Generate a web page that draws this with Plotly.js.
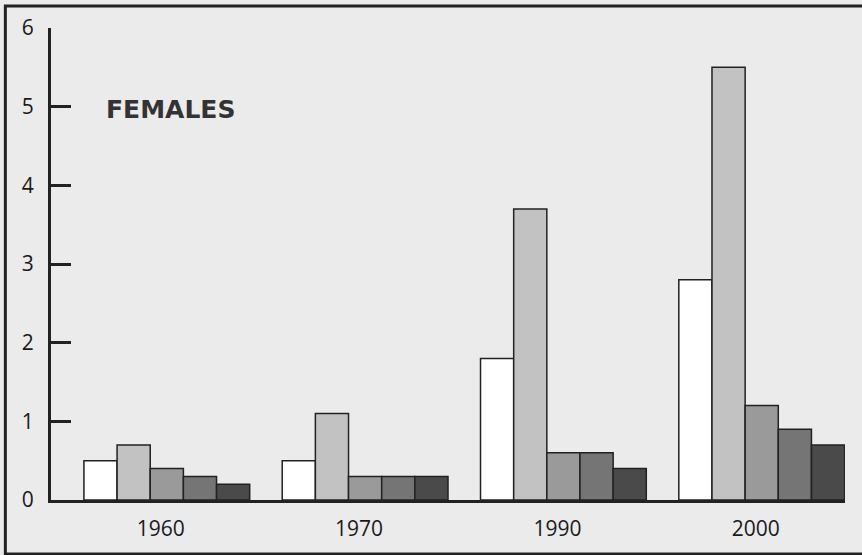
<!DOCTYPE html>
<html>
<head>
<meta charset="utf-8">
<script src="https://cdn.plot.ly/plotly-3.0.1.min.js"></script>
<style>
html,body{margin:0;padding:0;background:#ebebeb;}
#chart{width:862px;height:555px;}
</style>
</head>
<body>
<div id="chart"></div>
<script>
const decades = ["1960", "1970", "1990", "2000"];
const seriesNames = ["Series 1", "Series 2", "Series 3", "Series 4", "Series 5"];
const series1 = [0.5, 0.5, 1.8, 2.8];
const series2 = [0.7, 1.1, 3.7, 5.5];
const series3 = [0.4, 0.3, 0.6, 1.2];
const series4 = [0.3, 0.3, 0.6, 0.9];
const series5 = [0.2, 0.3, 0.4, 0.7];
const yTicks = [0, 1, 2, 3, 4, 5, 6];
const panelLabel = "FEMALES";

const fills = ["#ffffff", "#c2c2c2", "#9a9a9a", "#757575", "#4a4a4a"];
const allSeries = [series1, series2, series3, series4, series5];

const traces = allSeries.map((vals, i) => ({
  type: "bar",
  name: seriesNames[i],
  x: decades,
  y: vals,
  marker: {color: fills[i], line: {color: "#222", width: 1.5}},
  hoverinfo: "x+y+name"
}));

const layout = {
  width: 862,
  height: 555,
  paper_bgcolor: "#ebebeb",
  plot_bgcolor: "rgba(0,0,0,0)",
  margin: {l: 51, r: 17, t: 28, b: 55},
  showlegend: false,
  barmode: "group",
  bargap: 0.164,
  bargroupgap: 0,
  font: {family: "Open Sans, sans-serif", color: "#1a1a1a"},
  xaxis: {
    type: "category",
    range: [-0.584, 3.42],
    showgrid: false,
    zeroline: false,
    showline: true,
    linecolor: "#222",
    linewidth: 2.5,
    ticks: "",
    ticklabelstandoff: 8,
    ticklabelshift: -6,
    tickfont: {size: 21, family: "Open Sans, sans-serif", color: "#1a1a1a"}
  },
  yaxis: {
    range: [0, 6],
    tickvals: yTicks,
    showgrid: false,
    zeroline: false,
    showline: true,
    linecolor: "#222",
    linewidth: 3,
    ticks: "inside",
    ticklen: 20,
    tickwidth: 3,
    tickcolor: "#222",
    ticklabelstandoff: 10,
    tickfont: {size: 21, family: "Open Sans, sans-serif", color: "#1a1a1a"}
  },
  annotations: [{
    text: panelLabel,
    xref: "paper", yref: "paper",
    x: 0.0672, y: 0.828,
    xanchor: "left", yanchor: "middle",
    showarrow: false,
    font: {family: "DejaVu Sans", size: 25, weight: "bold", color: "#333"}
  }],
  shapes: [{
    type: "rect",
    xref: "paper", yref: "paper",
    x0: -0.0575, x1: 1.2, y0: -0.1145, y1: 1.0466,
    line: {color: "#222", width: 3},
    fillcolor: "rgba(0,0,0,0)",
    layer: "below"
  }]
};

Plotly.newPlot("chart", traces, layout, {displayModeBar: false, staticPlot: true});
</script>
</body>
</html>
